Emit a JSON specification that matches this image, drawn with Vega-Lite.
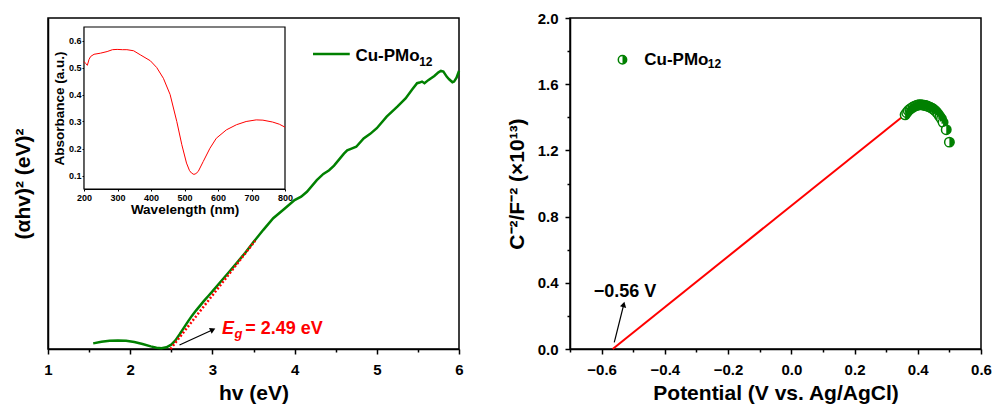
{
  "$schema": "https://vega.github.io/schema/vega-lite/v6.json",
  "background": "white",
  "padding": {"left": 11, "top": 10, "right": 0, "bottom": 0},
  "spacing": 40,
  "config": {
    "font": "Liberation Sans",
    "view": {"stroke": "black", "strokeWidth": 1.5},
    "axis": {"grid": false, "domainColor": "black", "domainWidth": 1.5, "tickColor": "black", "tickWidth": 1.5, "tickSize": 5, "labelFont": "Liberation Sans", "labelFontWeight": "bold", "labelColor": "black", "labelFontSize": 15, "titleFont": "Liberation Sans", "titleFontWeight": "bold", "titleColor": "black", "titleFontSize": 21, "labelFlush": false, "labelOverlap": false, "labelPadding": 6, "titlePadding": 6},
    "text": {"font": "Liberation Sans", "fontWeight": "bold"}
  },
  "datasets": {
    "tauc": [
      {"hv": 1.55, "ahv2": 1.7}, {"hv": 1.65, "ahv2": 2.2}, {"hv": 1.75, "ahv2": 2.5}, {"hv": 1.85, "ahv2": 2.6}, {"hv": 1.95, "ahv2": 2.5},
      {"hv": 2.05, "ahv2": 2.1}, {"hv": 2.15, "ahv2": 1.5}, {"hv": 2.25, "ahv2": 0.8}, {"hv": 2.32, "ahv2": 0.4}, {"hv": 2.38, "ahv2": 0.2},
      {"hv": 2.44, "ahv2": 0.5}, {"hv": 2.5, "ahv2": 1.3}, {"hv": 2.55, "ahv2": 2.6}, {"hv": 2.6, "ahv2": 4.4}, {"hv": 2.65, "ahv2": 6.3},
      {"hv": 2.7, "ahv2": 8.2}, {"hv": 2.75, "ahv2": 10.0}, {"hv": 2.8, "ahv2": 11.6}, {"hv": 2.85, "ahv2": 13.1}, {"hv": 2.9, "ahv2": 14.6},
      {"hv": 2.95, "ahv2": 16.0}, {"hv": 3.0, "ahv2": 17.4}, {"hv": 3.1, "ahv2": 20.3}, {"hv": 3.2, "ahv2": 23.2}, {"hv": 3.3, "ahv2": 26.1},
      {"hv": 3.4, "ahv2": 29.1}, {"hv": 3.5, "ahv2": 32.3}, {"hv": 3.62, "ahv2": 36.0}, {"hv": 3.74, "ahv2": 39.5}, {"hv": 3.87, "ahv2": 42.2},
      {"hv": 4.0, "ahv2": 45.0}, {"hv": 4.08, "ahv2": 46.0}, {"hv": 4.15, "ahv2": 47.5}, {"hv": 4.27, "ahv2": 51.0}, {"hv": 4.35, "ahv2": 52.9},
      {"hv": 4.42, "ahv2": 54.0}, {"hv": 4.48, "ahv2": 55.4}, {"hv": 4.6, "ahv2": 59.0}, {"hv": 4.64, "ahv2": 60.0}, {"hv": 4.7, "ahv2": 60.6},
      {"hv": 4.75, "ahv2": 61.1}, {"hv": 4.84, "ahv2": 63.6}, {"hv": 4.92, "ahv2": 65.0}, {"hv": 5.0, "ahv2": 66.7}, {"hv": 5.12, "ahv2": 70.2},
      {"hv": 5.25, "ahv2": 73.2}, {"hv": 5.35, "ahv2": 75.7}, {"hv": 5.43, "ahv2": 78.4}, {"hv": 5.49, "ahv2": 80.3}, {"hv": 5.52, "ahv2": 80.5},
      {"hv": 5.55, "ahv2": 80.8}, {"hv": 5.58, "ahv2": 80.3}, {"hv": 5.63, "ahv2": 81.3}, {"hv": 5.7, "ahv2": 82.5}, {"hv": 5.75, "ahv2": 83.6},
      {"hv": 5.78, "ahv2": 84.0}, {"hv": 5.81, "ahv2": 83.8}, {"hv": 5.85, "ahv2": 82.3}, {"hv": 5.88, "ahv2": 81.5}, {"hv": 5.92, "ahv2": 80.6},
      {"hv": 5.94, "ahv2": 80.8}, {"hv": 5.97, "ahv2": 82.0}, {"hv": 6.0, "ahv2": 84.0}
    ],
    "fit": [{"hv": 2.49, "ahv2": 0}, {"hv": 3.52, "ahv2": 32.7}],
    "arrowL": [{"hv": 2.6, "ahv2": 1.2}, {"hv": 3.005, "ahv2": 5.84}],
    "legL": [{"hv": 4.224, "ahv2": 89.1}, {"hv": 4.671, "ahv2": 89.1}],
    "uv": [
      {"wl": 200, "abs": 0.522}, {"wl": 205, "abs": 0.515}, {"wl": 210, "abs": 0.508}, {"wl": 215, "abs": 0.53}, {"wl": 220, "abs": 0.541},
      {"wl": 230, "abs": 0.549}, {"wl": 249, "abs": 0.553}, {"wl": 269, "abs": 0.559}, {"wl": 285, "abs": 0.566}, {"wl": 299, "abs": 0.567},
      {"wl": 315, "abs": 0.566}, {"wl": 328, "abs": 0.566}, {"wl": 348, "abs": 0.562}, {"wl": 368, "abs": 0.547}, {"wl": 398, "abs": 0.525},
      {"wl": 417, "abs": 0.5}, {"wl": 437, "abs": 0.46}, {"wl": 457, "abs": 0.4}, {"wl": 477, "abs": 0.3}, {"wl": 492, "abs": 0.214},
      {"wl": 506, "abs": 0.146}, {"wl": 515, "abs": 0.118}, {"wl": 521, "abs": 0.109}, {"wl": 528, "abs": 0.104}, {"wl": 534, "abs": 0.107},
      {"wl": 541, "abs": 0.115}, {"wl": 556, "abs": 0.152}, {"wl": 576, "abs": 0.201}, {"wl": 595, "abs": 0.238}, {"wl": 625, "abs": 0.269},
      {"wl": 655, "abs": 0.288}, {"wl": 684, "abs": 0.3}, {"wl": 714, "abs": 0.306}, {"wl": 734, "abs": 0.305}, {"wl": 763, "abs": 0.298},
      {"wl": 783, "abs": 0.29}, {"wl": 800, "abs": 0.279}
    ],
    "ms": [
      {"E": 0.36, "C": 1.415}, {"E": 0.365, "C": 1.428}, {"E": 0.37, "C": 1.44}, {"E": 0.375, "C": 1.449}, {"E": 0.38, "C": 1.456},
      {"E": 0.385, "C": 1.462}, {"E": 0.39, "C": 1.467}, {"E": 0.395, "C": 1.471}, {"E": 0.4, "C": 1.474}, {"E": 0.405, "C": 1.476},
      {"E": 0.41, "C": 1.476}, {"E": 0.415, "C": 1.475}, {"E": 0.42, "C": 1.473}, {"E": 0.425, "C": 1.471}, {"E": 0.43, "C": 1.468},
      {"E": 0.435, "C": 1.464}, {"E": 0.44, "C": 1.46}, {"E": 0.445, "C": 1.455}, {"E": 0.45, "C": 1.448}, {"E": 0.455, "C": 1.44},
      {"E": 0.46, "C": 1.43}, {"E": 0.465, "C": 1.418}, {"E": 0.47, "C": 1.404}, {"E": 0.475, "C": 1.39}, {"E": 0.48, "C": 1.37},
      {"E": 0.49, "C": 1.325}, {"E": 0.5, "C": 1.25}
    ],
    "msfit": [{"E": -0.565, "C": 0}, {"E": 0.375, "C": 1.44}],
    "arrowR": [{"E": -0.56, "C": 0.04}, {"E": -0.53, "C": 0.269}]
  },
  "hconcat": [
    {
      "width": 411,
      "height": 331,
      "layer": [
        {
          "layer": [
            {
              "layer": [
                {
                  "data": {"name": "tauc"},
                  "mark": {"type": "line", "color": "#008000", "strokeWidth": 2.5},
                  "encoding": {
                    "x": {"field": "hv", "type": "quantitative", "scale": {"domain": [1, 6], "nice": false}, "axis": {"values": [1, 2, 3, 4, 5, 6], "format": "d", "title": "hv (eV)", "labelPadding": 8, "titlePadding": 5}},
                    "y": {"field": "ahv2", "type": "quantitative", "scale": {"domain": [0, 100], "nice": false}, "axis": {"labels": false, "ticks": false, "title": "(αhv)² (eV)²", "titlePadding": 15}}
                  }
                },
                {
                  "data": {"name": "fit"},
                  "mark": {"type": "line", "color": "#ff0000", "strokeWidth": 2.5, "strokeDash": [2, 2]},
                  "encoding": {"x": {"field": "hv", "type": "quantitative"}, "y": {"field": "ahv2", "type": "quantitative"}}
                },
                {
                  "data": {"name": "arrowL"},
                  "mark": {"type": "line", "color": "black", "strokeWidth": 1.2},
                  "encoding": {"x": {"field": "hv", "type": "quantitative"}, "y": {"field": "ahv2", "type": "quantitative"}}
                },
                {
                  "data": {"values": [{}]},
                  "mark": {"type": "point", "shape": "triangle-up", "filled": true, "color": "black", "size": 40, "opacity": 1, "angle": 65},
                  "encoding": {"x": {"datum": 3.005, "type": "quantitative"}, "y": {"datum": 5.84, "type": "quantitative"}}
                },
                {
                  "data": {"values": [{}]},
                  "mark": {"type": "text", "text": "E", "color": "#ff0000", "fontSize": 18, "fontStyle": "italic", "align": "left", "baseline": "alphabetic"},
                  "encoding": {"x": {"datum": 3.118, "type": "quantitative"}, "y": {"datum": 4.44, "type": "quantitative"}}
                },
                {
                  "data": {"values": [{}]},
                  "mark": {"type": "text", "text": "g", "color": "#ff0000", "fontSize": 13, "fontStyle": "italic", "align": "left", "baseline": "alphabetic"},
                  "encoding": {"x": {"datum": 3.268, "type": "quantitative"}, "y": {"datum": 3.2, "type": "quantitative"}}
                },
                {
                  "data": {"values": [{}]},
                  "mark": {"type": "text", "text": "= 2.49 eV", "color": "#ff0000", "fontSize": 18, "align": "left", "baseline": "alphabetic"},
                  "encoding": {"x": {"datum": 3.4, "type": "quantitative"}, "y": {"datum": 4.44, "type": "quantitative"}}
                },
                {
                  "data": {"name": "legL"},
                  "mark": {"type": "line", "color": "#008000", "strokeWidth": 2.5},
                  "encoding": {"x": {"field": "hv", "type": "quantitative"}, "y": {"field": "ahv2", "type": "quantitative"}}
                },
                {
                  "data": {"values": [{}]},
                  "mark": {"type": "text", "text": "Cu-PMo", "color": "black", "fontSize": 17, "align": "left", "baseline": "alphabetic"},
                  "encoding": {"x": {"datum": 4.74, "type": "quantitative"}, "y": {"datum": 87.1, "type": "quantitative"}}
                },
                {
                  "data": {"values": [{}]},
                  "mark": {"type": "text", "text": "12", "color": "black", "fontSize": 12, "align": "left", "baseline": "alphabetic"},
                  "encoding": {"x": {"datum": 5.515, "type": "quantitative"}, "y": {"datum": 85.6, "type": "quantitative"}}
                }
              ]
            },
            {
              "data": {"name": "tauc"},
              "mark": {"type": "point", "opacity": 0},
              "encoding": {
                "x": {"field": "hv", "type": "quantitative", "axis": {"orient": "bottom", "values": [1.5, 2.5, 3.5, 4.5, 5.5], "labels": false, "domain": false, "tickSize": 3, "title": null}}
              }
            }
          ],
          "resolve": {"axis": {"x": "independent"}}
        },
        {
          "layer": [
            {
              "data": {"values": [{}]},
              "mark": {"type": "rect", "fill": "white", "stroke": "black", "strokeWidth": 1.2},
              "encoding": {
                "x": {"datum": 200, "type": "quantitative", "scale": {"domain": [200, 800], "range": [36, 237], "nice": false}, "axis": {"orient": "bottom", "offset": -160, "values": [200, 300, 400, 500, 600, 700, 800], "title": "Wavelength (nm)", "labelFontSize": 9, "titleFontSize": 13.5, "tickSize": 2, "tickWidth": 1, "domainWidth": 1.2, "labelPadding": 2, "titlePadding": 0}},
                "x2": {"datum": 800},
                "y": {"datum": 0.05, "type": "quantitative", "scale": {"domain": [0.05, 0.65], "range": [171, 9], "nice": false}, "axis": {"orient": "left", "offset": -36, "values": [0.1, 0.2, 0.3, 0.4, 0.5, 0.6], "format": ".1f", "title": "Absorbance (a.u.)", "labelFontSize": 9, "titleFontSize": 13.5, "tickSize": 2, "tickWidth": 1, "domainWidth": 1.2, "labelPadding": 1, "titlePadding": 2}},
                "y2": {"datum": 0.65}
              }
            },
            {
              "data": {"name": "uv"},
              "mark": {"type": "line", "color": "#ff0000", "strokeWidth": 1},
              "encoding": {"x": {"field": "wl", "type": "quantitative"}, "y": {"field": "abs", "type": "quantitative"}}
            }
          ]
        }
      ],
      "resolve": {"scale": {"x": "independent", "y": "independent"}}
    },
    {
      "width": 411,
      "height": 331,
      "layer": [
        {
          "layer": [
            {
              "data": {"name": "msfit"},
              "mark": {"type": "line", "color": "#ff0000", "strokeWidth": 2},
              "encoding": {
                "x": {"field": "E", "type": "quantitative", "scale": {"domain": [-0.7, 0.6], "nice": false}, "axis": {"values": [-0.6, -0.4, -0.2, 0, 0.2, 0.4, 0.6], "format": ".1f", "title": "Potential (V vs. Ag/AgCl)", "labelPadding": 8, "titlePadding": 5}},
                "y": {"field": "C", "type": "quantitative", "scale": {"domain": [0, 2], "nice": false}, "axis": {"values": [0, 0.4, 0.8, 1.2, 1.6, 2.0], "format": ".1f", "title": "C⁻²/F⁻² (×10¹³)", "labelPadding": 7, "titlePadding": 10}}
              }
            },
            {
              "data": {"name": "ms"},
              "mark": {"type": "point", "shape": "circle", "filled": true, "fill": "white", "stroke": "#008000", "strokeWidth": 1.5, "size": 90, "opacity": 1},
              "encoding": {"x": {"field": "E", "type": "quantitative"}, "y": {"field": "C", "type": "quantitative"}}
            },
            {
              "data": {"name": "ms"},
              "mark": {"type": "point", "shape": "M0,-1 A1,1 0 0,1 0,1 Z", "filled": true, "color": "#008000", "size": 90, "opacity": 1},
              "encoding": {"x": {"field": "E", "type": "quantitative"}, "y": {"field": "C", "type": "quantitative"}}
            },
            {
              "data": {"values": [{}]},
              "mark": {"type": "point", "shape": "circle", "filled": true, "fill": "white", "stroke": "#008000", "strokeWidth": 1.5, "size": 70, "opacity": 1},
              "encoding": {"x": {"datum": -0.534, "type": "quantitative"}, "y": {"datum": 1.748, "type": "quantitative"}}
            },
            {
              "data": {"values": [{}]},
              "mark": {"type": "point", "shape": "M0,-1 A1,1 0 0,1 0,1 Z", "filled": true, "color": "#008000", "size": 70, "opacity": 1},
              "encoding": {"x": {"datum": -0.534, "type": "quantitative"}, "y": {"datum": 1.748, "type": "quantitative"}}
            },
            {
              "data": {"values": [{}]},
              "mark": {"type": "text", "text": "Cu-PMo", "color": "black", "fontSize": 17, "align": "left", "baseline": "alphabetic"},
              "encoding": {"x": {"datum": -0.465, "type": "quantitative"}, "y": {"datum": 1.718, "type": "quantitative"}}
            },
            {
              "data": {"values": [{}]},
              "mark": {"type": "text", "text": "12", "color": "black", "fontSize": 12, "align": "left", "baseline": "alphabetic"},
              "encoding": {"x": {"datum": -0.264, "type": "quantitative"}, "y": {"datum": 1.698, "type": "quantitative"}}
            },
            {
              "data": {"values": [{}]},
              "mark": {"type": "text", "text": "−0.56 V", "color": "black", "fontSize": 18, "align": "left", "baseline": "alphabetic"},
              "encoding": {"x": {"datum": -0.625, "type": "quantitative"}, "y": {"datum": 0.312, "type": "quantitative"}}
            },
            {
              "data": {"name": "arrowR"},
              "mark": {"type": "line", "color": "black", "strokeWidth": 1.2},
              "encoding": {"x": {"field": "E", "type": "quantitative"}, "y": {"field": "C", "type": "quantitative"}}
            },
            {
              "data": {"values": [{}]},
              "mark": {"type": "point", "shape": "triangle-up", "filled": true, "color": "black", "size": 40, "opacity": 1, "angle": 14},
              "encoding": {"x": {"datum": -0.53, "type": "quantitative"}, "y": {"datum": 0.269, "type": "quantitative"}}
            }
          ]
        },
        {
          "data": {"name": "ms"},
          "mark": {"type": "point", "opacity": 0},
          "encoding": {
            "x": {"field": "E", "type": "quantitative", "axis": {"orient": "bottom", "values": [-0.7, -0.5, -0.3, -0.1, 0.1, 0.3, 0.5], "labels": false, "domain": false, "tickSize": 3, "title": null}},
            "y": {"field": "C", "type": "quantitative", "axis": {"orient": "left", "values": [0.2, 0.6, 1.0, 1.4, 1.8], "labels": false, "domain": false, "tickSize": 3, "title": null}}
          }
        }
      ],
      "resolve": {"axis": {"x": "independent", "y": "independent"}}
    }
  ]
}
